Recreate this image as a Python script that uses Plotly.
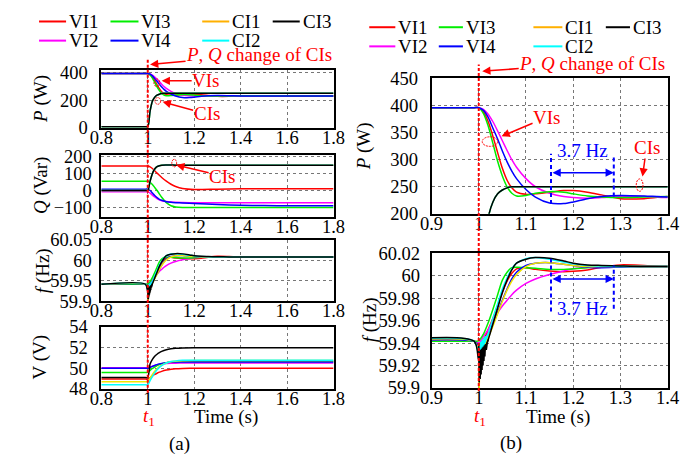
import plotly.graph_objects as go

W, H = 697, 465
FONT = "'Liberation Serif', 'Times New Roman', Times, serif"

# ---------------- data ----------------
# time grid (s) for active power and frequency
T_PF = [0.8, 0.99, 1.0, 1.01, 1.02, 1.03, 1.04, 1.05, 1.06, 1.07, 1.08, 1.1,
        1.12, 1.15, 1.18, 1.2, 1.23, 1.26, 1.3, 1.35, 1.4, 1.8]

# active power (W)
P_VI1 = [396, 396, 396, 388, 370, 343, 313, 284, 262, 248, 240, 236, 237, 240, 243, 243, 240, 235, 228, 228, 232, 231]
P_VI2 = [396, 396, 396, 393, 384, 370, 353, 335, 317, 300, 286, 265, 250, 238, 232, 230, 229, 230, 232, 232, 230, 231]
P_VI3 = [396, 396, 396, 385, 362, 330, 297, 270, 250, 238, 233, 234, 238, 241, 240, 237, 233, 231, 230, 231, 232, 231]
P_VI4 = [396, 396, 396, 391, 378, 358, 338, 316, 296, 279, 265, 245, 231, 220, 219, 222, 228, 232, 234, 233, 231, 231]
P_CI = [5, 5, 5, 120, 193, 222, 237, 244, 248, 250, 250, 250, 250, 250, 250, 250, 250, 250, 250, 250, 250, 250]

# frequency (Hz)
F_VI1 = [59.9417, 59.9417, 59.940, 59.943, 59.952, 59.962, 59.973, 59.985, 59.995, 60.002, 60.006, 60.007,
         60.0055, 60.004, 60.0035, 60.0038, 60.005, 60.0075, 60.0095, 60.009, 60.008, 60.008]
F_VI2 = [59.9417, 59.9417, 59.940, 59.946, 59.952, 59.960, 59.967, 59.973, 59.978, 59.983, 59.987, 59.993,
         59.997, 60.001, 60.004, 60.006, 60.0075, 60.008, 60.008, 60.008, 60.008, 60.008]
F_VI3 = [59.9417, 59.9417, 59.942, 59.948, 59.958, 59.970, 59.983, 59.996, 60.003, 60.007, 60.0075, 60.007,
         60.0065, 60.0055, 60.0055, 60.006, 60.007, 60.008, 60.008, 60.008, 60.008, 60.008]
F_VI4 = [59.9417, 59.9417, 59.938, 59.942, 59.948, 59.957, 59.967, 59.978, 59.988, 59.997, 60.003, 60.009,
         60.011, 60.0115, 60.010, 60.009, 60.0075, 60.007, 60.0075, 60.008, 60.008, 60.008]
F_CI1 = [59.9417, 59.9417, 59.935, 59.938, 59.945, 59.955, 59.966, 59.977, 59.987, 59.995, 60.001, 60.008,
         60.011, 60.0115, 60.010, 60.009, 60.008, 60.008, 60.008, 60.008, 60.008, 60.008]
F_CI2 = [59.9417, 59.9417, 59.930, 59.938, 59.948, 59.962, 59.975, 59.988, 59.998, 60.006, 60.011, 60.015,
         60.016, 60.0145, 60.012, 60.0105, 60.009, 60.0085, 60.008, 60.008, 60.008, 60.008]
F_CI3 = [59.9417, 59.9417, 59.925, 59.933, 59.943, 59.957, 59.971, 59.985, 59.996, 60.005, 60.011, 60.0145,
         60.016, 60.0155, 60.013, 60.011, 60.0095, 60.009, 60.0085, 60.008, 60.008, 60.008]

# switching ripple of the current-controlled inverters right after t1
T_SPK = [1.0, 1.001, 1.002, 1.003, 1.004, 1.005, 1.006, 1.007, 1.008, 1.009, 1.01,
         1.011, 1.012, 1.013, 1.014, 1.016, 1.018, 1.02]
F_CI1_SPK = [59.94, 59.900, 59.930, 59.912, 59.932, 59.918, 59.934, 59.922, 59.936, 59.926, 59.937,
             59.930, 59.938, 59.933, 59.939, 59.941, 59.943, 59.945]
F_CI2_SPK = [59.94, 59.922, 59.940, 59.925, 59.941, 59.928, 59.942, 59.931, 59.943, 59.934, 59.944,
             59.937, 59.945, 59.940, 59.946, 59.944, 59.947, 59.948]
F_CI3_SPK = [59.94, 59.905, 59.932, 59.908, 59.934, 59.912, 59.935, 59.916, 59.936, 59.920, 59.937,
             59.924, 59.938, 59.928, 59.939, 59.934, 59.940, 59.943]

# time grid (s) for reactive power and voltage
T_QV = [0.8, 0.99, 1.0, 1.01, 1.02, 1.03, 1.04, 1.05, 1.06, 1.08, 1.1, 1.12, 1.15, 1.2, 1.3, 1.4, 1.5, 1.6, 1.8]

# reactive power (Var)
Q_VI1 = [145, 145, 145, 140, 130, 117, 103, 90, 77, 55, 37, 24, 12, 6, 8, 10, 11, 10, 10]
Q_VI2 = [-8, -8, -8, -15, -27, -38, -48, -55, -60, -65, -68, -70, -71, -72, -72, -72, -72, -72, -72]
Q_VI3 = [55, 55, 55, 48, 35, 18, 0, -20, -40, -72, -90, -97, -100, -100, -100, -100, -100, -100, -100]
Q_VI4 = [8, 8, 8, 0, -15, -30, -42, -52, -58, -66, -70, -72, -74, -77, -83, -87, -89, -90, -90]
Q_CI = [0, 0, 0, 55, 100, 127, 141, 147, 150, 151, 151, 150, 150, 150, 150, 150, 150, 150, 150]

# voltage (V)
V_VI1 = [48.95, 48.95, 48.95, 49.1, 49.25, 49.4, 49.52, 49.62, 49.7, 49.82, 49.9, 49.95, 49.98, 50.0, 50.0, 50.0, 50.0, 50.0, 50.0]
V_VI2 = [50.05, 50.05, 50.05, 50.12, 50.2, 50.27, 50.33, 50.38, 50.42, 50.46, 50.48, 50.49, 50.5, 50.5, 50.5, 50.5, 50.5, 50.5, 50.5]
V_VI3 = [49.6, 49.6, 49.6, 49.8, 49.98, 50.12, 50.25, 50.35, 50.43, 50.53, 50.59, 50.62, 50.64, 50.65, 50.65, 50.65, 50.65, 50.65, 50.65]
V_VI4 = [50.0, 50.0, 50.0, 50.08, 50.18, 50.27, 50.35, 50.42, 50.47, 50.54, 50.57, 50.59, 50.6, 50.6, 50.6, 50.6, 50.6, 50.6, 50.6]
V_CI1 = [48.7, 48.7, 48.7, 49.05, 49.4, 49.7, 49.95, 50.15, 50.3, 50.5, 50.62, 50.68, 50.72, 50.75, 50.75, 50.75, 50.75, 50.75, 50.75]
V_CI2 = [48.4, 48.4, 48.4, 48.8, 49.2, 49.55, 49.85, 50.08, 50.26, 50.5, 50.64, 50.71, 50.76, 50.78, 50.78, 50.78, 50.78, 50.78, 50.78]
V_CI3 = [49.1, 49.1, 49.1, 50.4, 50.85, 51.15, 51.35, 51.5, 51.62, 51.78, 51.87, 51.92, 51.96, 51.98, 51.98, 51.98, 51.98, 51.98, 51.98]

SERIES = ["VI1", "VI2", "VI3", "VI4", "CI1", "CI2", "CI3"]
COLORS = {"VI1": "#ff0000", "VI2": "#ff00ff", "VI3": "#00ee00", "VI4": "#0000ff",
          "CI1": "#f2e600", "CI2": "#00ffff", "CI3": "#000000"}
LEGEND_COLORS = {"VI1": "#ff0000", "VI2": "#ff00ff", "VI3": "#00ee00", "VI4": "#0000ff",
                 "CI1": "#ffb000", "CI2": "#00ffff", "CI3": "#000000"}

LEFT_XTICKS = [0.8, 1.0, 1.2, 1.4, 1.6, 1.8]
LEFT_XLABELS = ["0.8", "1", "1.2", "1.4", "1.6", "1.8"]
RIGHT_XTICKS = [0.9, 1.0, 1.1, 1.2, 1.3, 1.4]
RIGHT_XLABELS = ["0.9", "1", "1.1", "1.2", "1.3", "1.4"]
P_LEFT_TICKS = [0, 200, 400]
Q_TICKS = [-100, 0, 100, 200]
F_LEFT_TICKS = [59.9, 59.95, 60.0, 60.05]
F_LEFT_LABELS = ["59.9", "59.95", "60", "60.05"]
V_TICKS = [48, 50, 52, 54]
P_RIGHT_TICKS = [200, 250, 300, 350, 400, 450]
F_RIGHT_TICKS = [59.9, 59.92, 59.94, 59.96, 59.98, 60.0, 60.02]
F_RIGHT_LABELS = ["59.9", "59.92", "59.94", "59.96", "59.98", "60", "60.02"]


def px(x):
    return x / W


def py(y):
    return 1 - y / H


fig = go.Figure()

P_DATA = {"VI1": P_VI1, "VI2": P_VI2, "VI3": P_VI3, "VI4": P_VI4, "CI1": P_CI, "CI2": P_CI, "CI3": P_CI}
F_DATA = {"VI1": F_VI1, "VI2": F_VI2, "VI3": F_VI3, "VI4": F_VI4, "CI1": F_CI1, "CI2": F_CI2, "CI3": F_CI3}
Q_DATA = {"VI1": Q_VI1, "VI2": Q_VI2, "VI3": Q_VI3, "VI4": Q_VI4, "CI1": Q_CI, "CI2": Q_CI, "CI3": Q_CI}
V_DATA = {"VI1": V_VI1, "VI2": V_VI2, "VI3": V_VI3, "VI4": V_VI4, "CI1": V_CI1, "CI2": V_CI2, "CI3": V_CI3}
SPIKES = {"CI1": F_CI1_SPK, "CI2": F_CI2_SPK, "CI3": F_CI3_SPK}


def add_panel(t, data, xa, ya, spikes=None):
    for s in SERIES:
        fig.add_trace(go.Scatter(x=t, y=data[s], mode="lines", name=s, xaxis=xa, yaxis=ya,
                                 line=dict(color=COLORS[s], width=1.5, shape="spline", smoothing=0.8),
                                 hoverinfo="skip", showlegend=False))
        if spikes is not None and s in spikes:
            fig.add_trace(go.Scatter(x=T_SPK, y=spikes[s], mode="lines", xaxis=xa, yaxis=ya,
                                     line=dict(color=COLORS[s], width=1.5),
                                     hoverinfo="skip", showlegend=False))


add_panel(T_PF, P_DATA, "x", "y")
add_panel(T_QV, Q_DATA, "x2", "y2")
add_panel(T_PF, F_DATA, "x3", "y3", SPIKES)
add_panel(T_QV, V_DATA, "x4", "y4")
add_panel(T_PF, P_DATA, "x5", "y5")
add_panel(T_PF, F_DATA, "x6", "y6", SPIKES)

LX = [92.5, 333]
RX = [434.5, 679]
panels = [
    # (id, xdom px, ydom px (top, bottom), xrange, yrange, xticks, xlabels, yticks, ylabels, standoff)
    ("", LX, (63, 123), [0.8, 1.8], [-2, 419], LEFT_XTICKS, LEFT_XLABELS, P_LEFT_TICKS, None, 8),
    ("2", LX, (151, 216), [0.8, 1.8], [-155, 213], LEFT_XTICKS, LEFT_XLABELS, Q_TICKS, None, 4),
    ("3", LX, (240, 304.5), [0.8, 1.8], [59.9, 60.05], LEFT_XTICKS, LEFT_XLABELS, F_LEFT_TICKS, F_LEFT_LABELS, 4),
    ("4", LX, (331, 396), [0.8, 1.8], [48, 54], LEFT_XTICKS, LEFT_XLABELS, V_TICKS, None, 8),
    ("5", RX, (71.5, 213), [0.9, 1.4], [200, 450], RIGHT_XTICKS, RIGHT_XLABELS, P_RIGHT_TICKS, None, 8),
    ("6", RX, (254, 395), [0.9, 1.4], [59.9, 60.02], RIGHT_XTICKS, RIGHT_XLABELS, F_RIGHT_TICKS, F_RIGHT_LABELS, 6),
]

axis_common = dict(showline=True, mirror=True, linecolor="black", linewidth=1.5,
                   showgrid=True, gridcolor="#777777", griddash="dot", gridwidth=1,
                   zeroline=False, ticks="", tickfont=dict(family=FONT, size=18.5, color="black"))
layout_axes = {}
for pid, xd, yd, xr, yr, xt, xl, yt, yl, so in panels:
    layout_axes["xaxis" + pid] = dict(axis_common, domain=[px(xd[0]), px(xd[1])], range=xr,
                                      tickvals=xt, ticktext=xl, anchor="y" + pid,
                                      ticklabelstandoff=-8)
    ydict = dict(axis_common, domain=[py(yd[1]), py(yd[0])], range=yr, tickvals=yt,
                 anchor="x" + pid, ticklabelstandoff=so)
    if yl is not None:
        ydict["ticktext"] = yl
    layout_axes["yaxis" + pid] = ydict

fig.update_layout(width=W, height=H, margin=dict(l=0, r=0, t=0, b=0),
                  paper_bgcolor="white", plot_bgcolor="white", showlegend=False,
                  font=dict(family=FONT, size=18, color="black"), **layout_axes)

shapes = []
annotations = []

# event line at t1
shapes.append(dict(type="line", xref="x", yref="paper", x0=1.0, x1=1.0, y0=py(400), y1=py(50),
                   line=dict(color="red", width=2, dash="3px,2px"), layer="above"))
shapes.append(dict(type="line", xref="x5", yref="paper", x0=1.0, x1=1.0, y0=py(398), y1=py(57),
                   line=dict(color="red", width=2, dash="3px,2px"), layer="above"))

# legends (two rows, column-major order)
LEGEND_LAYOUT = [
    # (series, line x0, line x1, row y) for the left block and the right block
    [("VI1", 28, 56, 12), ("VI2", 28, 56, 32), ("VI3", 102, 131, 12), ("VI4", 102, 131, 32),
     ("CI1", 197, 225, 12), ("CI2", 197, 225, 32), ("CI3", 270, 298, 12)],
    [("VI1", 370, 397, 18), ("VI2", 370, 397, 38), ("VI3", 442, 467, 18), ("VI4", 442, 467, 38),
     ("CI1", 540, 570, 18), ("CI2", 540, 570, 38), ("CI3", 615, 640, 18)],
]
for block in LEGEND_LAYOUT:
    for s, x0, x1, yy in block:
        shapes.append(dict(type="line", xref="paper", yref="paper", x0=px(x0), x1=px(x1),
                           y0=py(yy), y1=py(yy), line=dict(color=LEGEND_COLORS[s], width=2)))
        annotations.append(dict(text=s, xref="paper", yref="paper", x=px(x1 + 2), y=py(yy),
                                xanchor="left", yanchor="middle", showarrow=False, borderpad=0,
                                font=dict(family=FONT, size=19, color="black")))


def note(text, x, y, color="black", size=19, angle=0):
    annotations.append(dict(text=text, xref="paper", yref="paper", x=px(x), y=py(y),
                            xanchor="center", yanchor="middle", showarrow=False, textangle=angle,
                            font=dict(family=FONT, size=size, color=color)))


def arrow_note(text, tip, center, color="red", size=19):
    annotations.append(dict(text=text, xref="paper", yref="paper", x=px(tip[0]), y=py(tip[1]),
                            ax=center[0] - tip[0], ay=center[1] - tip[1], showarrow=True,
                            arrowhead=2, arrowsize=1.1, arrowwidth=1.5, arrowcolor=color,
                            borderpad=0, font=dict(family=FONT, size=size, color=color)))


def ring(cx, cy, rx, ry):
    shapes.append(dict(type="circle", xref="paper", yref="paper",
                       x0=px(cx - rx), x1=px(cx + rx), y0=py(cy + ry), y1=py(cy - ry),
                       line=dict(color="red", width=1, dash="2px,1px"), layer="above"))


# y-axis titles
note("<i>P</i> (W)", 30, 93, angle=-90)
note("<i>Q</i> (Var)", 30, 183, angle=-90)
note("<i>f</i> (Hz)", 32, 272, angle=-90)
note("V (V)", 29, 363, angle=-90)
note("<i>P</i> (W)", 364, 142, angle=-90)
note("<i>f</i> (Hz)", 371, 324, angle=-90)

# x-axis titles, event marks and panel tags
note("Time (s)", 222, 425)
note("Time (s)", 565, 425)
note("<i>t</i><sub>1</sub>", 142, 425, color="red")
note("<i>t</i><sub>1</sub>", 485, 425, color="red")
note("(a)", 173, 453)
note("(b)", 517, 452)

# callouts, left column
arrow_note("<i>P</i>, <i>Q</i> change of CIs", (143, 57), (252, 47))
arrow_note("VIs", (155, 74), (199, 74))
arrow_note("CIs", (156, 96), (200, 108))
arrow_note("CIs", (170, 162), (216, 173))
ring(150, 76, 3, 4)
ring(151, 95, 3, 3.5)
ring(168, 160, 2.5, 4)

# callouts, right column
arrow_note("<i>P</i>, <i>Q</i> change of CIs", (487, 64), (597, 56))
arrow_note("VIs", (507, 132), (552, 113))
arrow_note("CIs", (653, 174), (657, 145))
ring(495, 137.5, 8, 5)
ring(650, 183, 3.5, 6.5)

# oscillation period markers (3.7 Hz)
BLUE = "#0000ff"
for xa, ya, xl, xr, yl, yr, ya_arrow, ytext in [
    ("x5", "y5", 1.153, 1.286, (218, 311), (232, 308), 276, 317),
    ("x6", "y6", 1.153, 1.286, (59.968, 60.0149), (59.9706, 60.009), 59.997, 59.9706),
]:
    shapes.append(dict(type="line", xref=xa, yref=ya, x0=xl, x1=xl, y0=yl[0], y1=yl[1],
                       line=dict(color=BLUE, width=2, dash="4px,3px"), layer="above"))
    shapes.append(dict(type="line", xref=xa, yref=ya, x0=xr, x1=xr, y0=yr[0], y1=yr[1],
                       line=dict(color=BLUE, width=2, dash="4px,3px"), layer="above"))
    annotations.append(dict(text="", xref=xa, yref=ya, x=xr, y=ya_arrow, axref=xa, ayref=ya,
                            ax=xl, ay=ya_arrow, showarrow=True, arrowhead=2, startarrowhead=2,
                            arrowside="end+start", arrowsize=1.1, arrowwidth=1.5, arrowcolor=BLUE))
    annotations.append(dict(text="3.7 Hz", xref=xa, yref=ya, x=1.219, y=ytext, showarrow=False,
                            xanchor="center", yanchor="middle", borderpad=0,
                            font=dict(family=FONT, size=19, color=BLUE)))

fig.update_layout(shapes=shapes, annotations=annotations)
fig.write_html("out.html")
